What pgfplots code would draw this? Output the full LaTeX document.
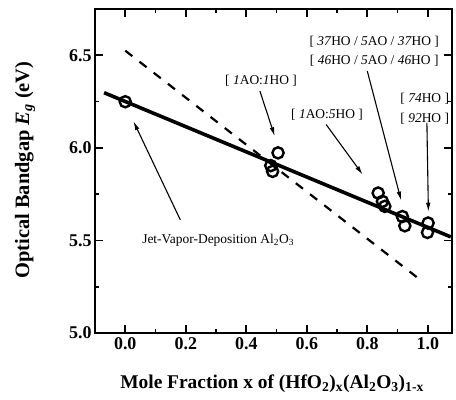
\documentclass[border=0pt]{standalone}
\usepackage{fontspec}
\setmainfont{Liberation Serif}
\usepackage{pgfplots}
\pgfplotsset{compat=1.18}
\usetikzlibrary{arrows.meta}
\begin{document}
\begin{tikzpicture}
\begin{axis}[
  scale only axis, width=357bp, height=324bp,
  xmin=-0.1, xmax=1.08, ymin=5.0, ymax=6.75,
  xtick={0,0.2,0.4,0.6,0.8,1.0}, ytick={5.0,5.5,6.0,6.5},
  minor x tick num=1, minor y tick num=1,
  tick align=inside, major tick length=8bp, minor tick length=4bp,
  axis line style={line width=2.4bp},
  every tick/.style={line width=1.6bp, black},
  /pgf/number format/assume math mode=true,
  /pgf/number format/.cd, fixed, fixed zerofill, precision=1, /pgfplots/.cd,
  tick label style={font=\fontsize{18}{20}\selectfont\bfseries},
  xticklabel style={yshift=-1bp},
  xlabel={Mole Fraction x of (HfO\textsubscript{2})\textsubscript{x}(Al\textsubscript{2}O\textsubscript{3})\textsubscript{1-x}},
  ylabel={Optical Bandgap \textit{E}\textsubscript{\textit{g}} (eV)},
  xlabel style={font=\fontsize{19.5}{22}\selectfont\bfseries, at={(axis description cs:0.496,-0.157)}, anchor=center},
  ylabel style={font=\fontsize{20.5}{23}\selectfont\bfseries, at={(axis description cs:-0.196,0.503)}, anchor=center, rotate=0},
  clip=false,
]
% fit lines
\addplot[black, line width=3.6bp] coordinates {(-0.07,6.298) (1.076,5.519)};
\addplot[black, line width=2.2bp, dash pattern=on 9bp off 9bp] coordinates {(0.0,6.525) (0.983,5.277)};
% measured points
\addplot[only marks, mark=o, mark size=5.6bp, black, mark options={line width=2.4bp}] coordinates {
  (0.0,6.249)
  (0.505,5.973) (0.481,5.904) (0.487,5.873)
  (0.836,5.756) (0.850,5.711) (0.858,5.684)
  (0.916,5.629) (0.924,5.579)
  (1.001,5.594) (0.999,5.543)
};
\coordinate (SW) at (rel axis cs:0,0);
% annotations
\tikzset{ann/.style={font=\fontsize{13.5}{16}\selectfont, inner sep=0pt},
         arr/.style={-{Latex[length=9bp,width=4.5bp]}, line width=1.1bp}}
\node[ann] at (axis cs:0.307,5.503) {Jet-Vapor-Deposition Al\textsubscript{2}O\textsubscript{3}};
\draw[arr] (axis cs:0.182,5.611) -- (axis cs:0.027,6.144);
\node[ann] at (axis cs:0.449,6.365) {[ \textit{1}AO:\textit{1}HO ]};
\draw[arr] (axis cs:0.445,6.307) -- (axis cs:0.494,6.063);
\node[ann] at (axis cs:0.667,6.180) {[ \textit{1}AO:\textit{5}HO ]};
\draw[arr] (axis cs:0.664,6.126) -- (axis cs:0.785,5.855);
\node[ann] at (axis cs:0.823,6.572) {[ \textit{37}HO / \textit{5}AO / \textit{37}HO ]};
\node[ann] at (axis cs:0.823,6.473) {[ \textit{46}HO / \textit{5}AO / \textit{46}HO ]};
\draw[arr] (axis cs:0.800,6.415) -- (axis cs:0.912,5.715);
\node[ann] at (axis cs:0.990,6.265) {[ \textit{74}HO ]};
\node[ann] at (axis cs:0.990,6.157) {[ \textit{92}HO ]};
\draw[arr] (axis cs:0.997,6.135) -- (axis cs:1.002,5.655);
\end{axis}
\pgfresetboundingbox
\path[use as bounding box] (SW) ++(-95bp,-67bp) rectangle ++(456bp,400bp);
\end{tikzpicture}
\end{document}
